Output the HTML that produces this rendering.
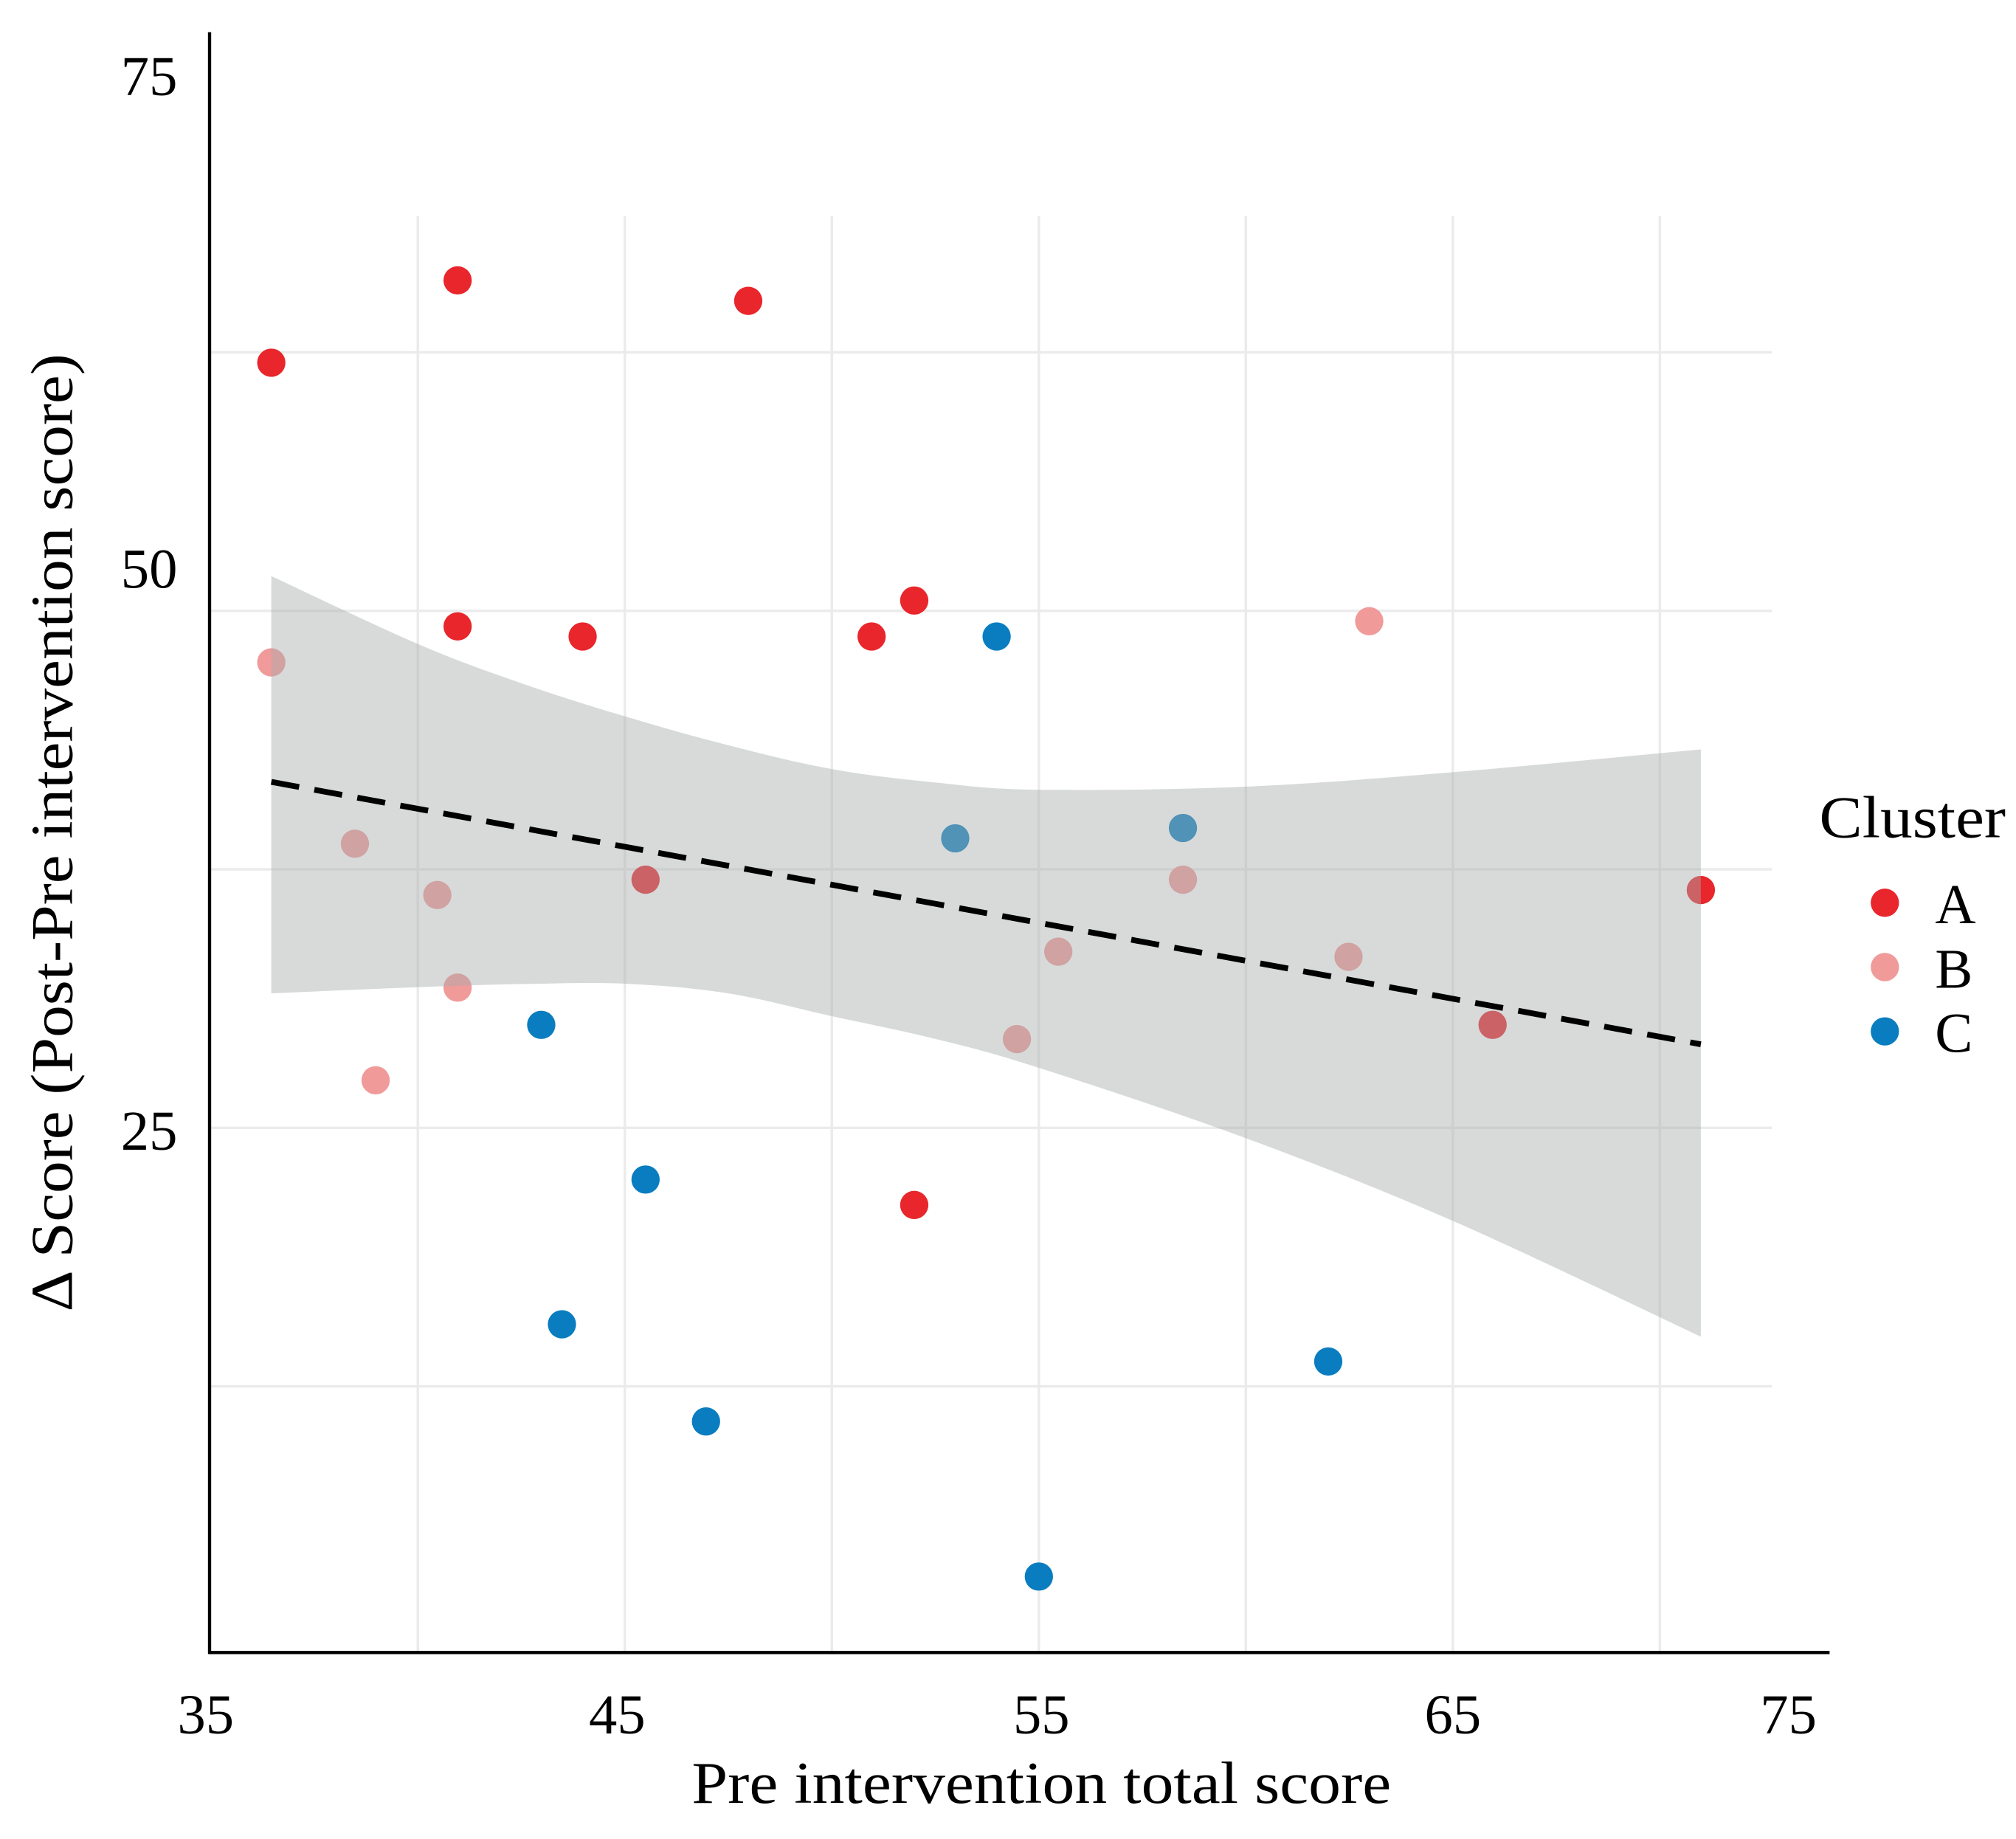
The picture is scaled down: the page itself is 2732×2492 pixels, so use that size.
<!DOCTYPE html>
<html><head><meta charset="utf-8"><style>
html,body{margin:0;padding:0;background:#fff;}
svg{display:block;font-family:"Liberation Serif",serif;}
</style></head><body>
<svg id="chart" width="2732" height="2492" viewBox="0 0 1568 1430" preserveAspectRatio="none" xmlns="http://www.w3.org/2000/svg">
<g id="grid"></g>
<g id="points"></g>
<g id="band"></g>
<g id="fit"></g>
<line x1="163" y1="25" x2="163" y2="1286" stroke="#000" stroke-width="2.5"/>
<line x1="162" y1="1285" x2="1423" y2="1285" stroke="#000" stroke-width="2.5"/>
<g id="ticks" font-size="44" fill="#000"></g>
<text x="538" y="1402" font-size="46" textLength="544" lengthAdjust="spacingAndGlyphs">Pre intervention total score</text>
<text transform="translate(56,1020) rotate(-90)" font-size="46" textLength="745" lengthAdjust="spacingAndGlyphs">Δ  Score (Post-Pre intervention score)</text>
<g>
<text x="1415" y="651" font-size="46" textLength="145" lengthAdjust="spacingAndGlyphs">Cluster</text>
<circle cx="1466" cy="702" r="11" fill="#e8262b"/>
<text x="1505" y="718" font-size="44">A</text>
<circle cx="1466" cy="752" r="11" fill="#f09a9a"/>
<text x="1505" y="768" font-size="44">B</text>
<circle cx="1466" cy="802" r="11" fill="#0a7dc0"/>
<text x="1505" y="818" font-size="44">C</text>
</g>
</svg>
<script>
const xA=[36.46,40.96,47.98,40.96,43.98,50.96,51.99,45.5,51.99,65.96,70.99];
const yA=[62.0,65.98,64.99,49.25,48.76,48.76,50.5,37.0,21.27,29.98,36.5];
const xB=[36.46,38.48,40.47,40.96,38.98,55.47,54.47,58.48,62.48,62.98];
const yB=[47.51,38.74,36.26,31.78,27.3,33.52,29.29,37.0,33.27,49.5];
const xC=[53.98,52.98,58.48,42.98,45.5,43.48,46.96,55.0,61.99];
const yC=[48.76,39.0,39.5,29.98,22.5,15.5,10.8,3.3,13.7];
const fitX=[36.46,70.99];
const fitY=[41.73,29.04];
const bandX=[36.46,40,42.5,45,47.5,50,52.5,55,60,65,70.99];
const bandUpper=[51.68,48.4,46.5,44.9,43.5,42.35,41.7,41.35,41.5,42.2,43.3];
const bandLower=[31.5,31.8,31.95,31.97,31.5,30.4,29.3,27.9,24.5,20.5,14.9];
const xTickLabels=["35","45","55","65","75"];
const yTickLabels=["75","50","25"];
const xGrid=[40,45,50,55,60,65,70];
const yGrid=[62.5,50,37.5,25,12.5];
const NS="http://www.w3.org/2000/svg";
function sx(v){return 164+(v-35)*32.2;}
function sy(v){return 475-(v-50)*16.08;}
function mk(tag,attrs,parent){const e=document.createElementNS(NS,tag);for(const k in attrs)e.setAttribute(k,attrs[k]);parent.appendChild(e);return e;}
const grid=document.getElementById('grid');
xGrid.forEach(v=>{const l=mk('line',{x1:sx(v),x2:sx(v),y1:168,y2:1285,stroke:'#ebebeb','stroke-width':2},grid);

});
yGrid.forEach(v=>{const l=mk('line',{x1:163,x2:1378,y1:sy(v),y2:sy(v),stroke:'#ebebeb','stroke-width':2},grid);

});
const pts=document.getElementById('points');
[[xA,yA,'#e8262b','a'],[xB,yB,'#f09a9a','b'],[xC,yC,'#0a7dc0','c']].forEach(s=>{
s[0].forEach((x,i)=>{const c=mk('circle',{cx:sx(x),cy:sy(s[1][i]),r:11,fill:s[2]},pts);

});});
function smooth(P,first){let d=first?'M'+P[0][0]+','+P[0][1]:'L'+P[0][0]+','+P[0][1];
for(let i=0;i<P.length-1;i++){const p0=P[i-1]||P[i],p1=P[i],p2=P[i+1],p3=P[i+2]||P[i+1];
d+='C'+(p1[0]+(p2[0]-p0[0])/6)+','+(p1[1]+(p2[1]-p0[1])/6)+' '+(p2[0]-(p3[0]-p1[0])/6)+','+(p2[1]-(p3[1]-p1[1])/6)+' '+p2[0]+','+p2[1];}
return d;}
const up=bandX.map((x,i)=>[sx(x),sy(bandUpper[i])]);
const lo=bandX.map((x,i)=>[sx(x),sy(bandLower[i])]).reverse();
const d=smooth(up,true)+smooth(lo,false)+'Z';
const bp=mk('path',{d:d,fill:'#a9adad','fill-opacity':0.45},document.getElementById('band'));


const fl=mk('line',{x1:sx(fitX[0]),y1:sy(fitY[0]),x2:sx(fitX[1]),y2:sy(fitY[1]),stroke:'#000','stroke-width':4.5,'stroke-dasharray':'22,12'},document.getElementById('fit'));


const ticks=document.getElementById('ticks');
const xPos=[160,480,810,1130,1391];
xTickLabels.forEach((t,i)=>{const e=mk('text',{x:xPos[i],y:1348,'text-anchor':'middle'},ticks);e.textContent=t;

});
const yPos=[74,457,894];
yTickLabels.forEach((t,i)=>{const e=mk('text',{x:138,y:yPos[i],'text-anchor':'end'},ticks);e.textContent=t;

});
</script>
</body></html>
